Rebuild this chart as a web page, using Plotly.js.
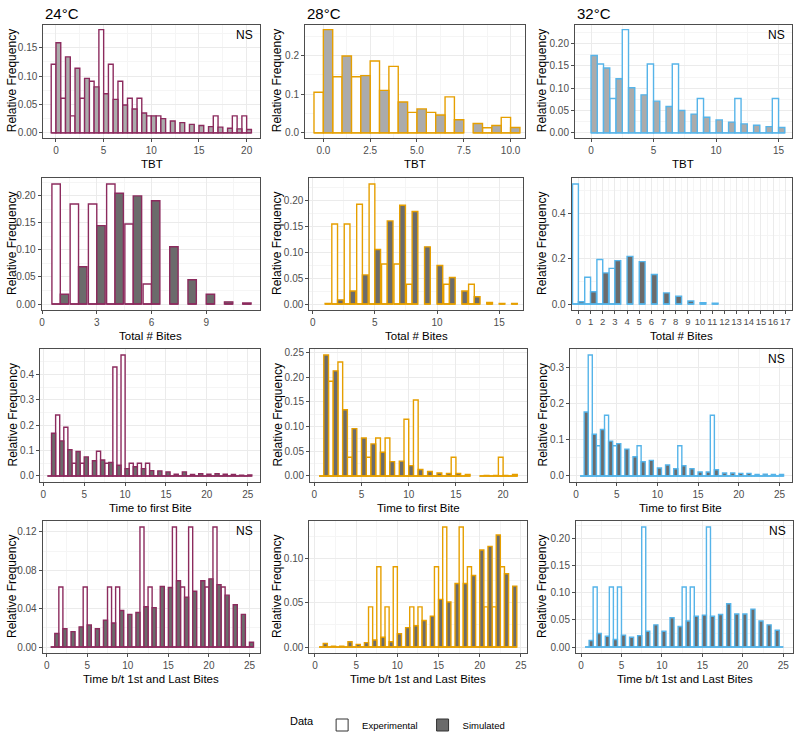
<!DOCTYPE html>
<html><head><meta charset="utf-8">
<script src="https://cdn.plot.ly/plotly-3.0.1.min.js"></script>
<style>html,body{margin:0;padding:0;background:#fff}#chart{width:798px;height:740px}</style>
</head><body><div id="chart"></div>
<script>
// ---------- DATA (relative frequencies; null = no bar) ----------
// Row 1: TBT
const tbt24Bins = [0,1,2,3,4,5,6,7,8,9,10,11,12,13,14,15,16,17,18,19,20];
const tbt24Exp  = [0.121,0.061,0.030,0.061,0.091,0.182,0.121,0.091,0.061,0.061,0.030,0.030,0,0,0,0,0,0.030,0,0.030,0.030];
const tbt24Sim  = [0.159,0.134,0.114,0.096,0.081,0.069,0.059,0.049,0.042,0.035,0.030,0.025,0.021,0.018,0.015,0.013,0.011,0.010,0.008,0.007,0.006];

const tbt28Bins = [0,1,2,3,4,5,6,7,8,9,10];
const tbt28Exp  = [0.105,0.145,0.145,0.186,0.172,0.053,0.053,0.093,null,0.013,0.040];
const tbt28Sim  = [0.267,0.199,0.148,0.110,0.080,0.062,0.046,0.034,0.024,0.019,0.014];

const tbt32Bins = [0,1,2,3,4,5,6,7,8,9,10,11,12,13,14,15];
const tbt32Exp  = [null,0.154,0.077,0.231,0,0.154,0,0.154,0,0.077,0,0,0.077,0,0,0.077];
const tbt32Sim  = [0.173,0.145,0.121,0.101,0.085,0.071,0.059,0.050,0.042,0.035,0.029,0.024,0.020,0.017,0.014,0.012];

// Row 2: Total # Bites
const bites24Bins = [1,2,3,4,5,6,7,8,9,10,11];
const bites24Exp  = [0.222,0.185,0.185,0.222,0.148,0.037,null,null,null,null,null];
const bites24Sim  = [0.018,0.069,0.145,0.205,0.200,0.191,0.106,0.045,0.018,0.004,0.002];

const bites28Bins = [1,2,3,4,5,6,7,8,9,10,11,12,13,14,15,16];
const bites28Exp  = [null,0.154,0.154,0.192,0.231,0.077,0.077,0.038,null,null,0.038,null,0.038,null,null,null];
const bites28Sim  = [0.001,0.008,0.025,0.056,0.105,0.160,0.190,0.178,0.110,0.074,0.051,0.025,0.014,0.003,0.001,0.001];

const bites32Bins = [0,1,2,3,4,5,6,7,8,9,10,11];
const bites32Exp  = [0.529,0.118,0.196,0.157,null,null,null,null,null,null,null,null];
const bites32Sim  = [0.010,0.054,0.137,0.191,0.210,0.187,0.130,0.049,0.034,0.013,0.006,0.003];
const bites32Ticks = [0,1,2,3,4,5,6,7,8,9,10,11,12,13,14,15,16,17];

// Row 3: Time to first Bite
const ttfb24Bins = [1,2,3,4,5,6,7,8,9,10,11,12,13,14,15,16,17,18,19,20,21,22,23,24,25];
const ttfb24Exp  = [0,0.240,0.192,0.050,0.050,0,0.097,0.050,0.429,0.476,0.050,0.050,0.050,0,0,0,0,0,0,0,0,0,0,0,0];
const ttfb24Sim  = [0.168,0.138,0.103,0.096,0.075,0.060,0.063,0.053,0.042,0.029,0.036,0.029,0.021,0.020,0.016,0.007,0.016,0.006,0.009,0.007,0.009,0.007,0.006,0.003,0.004];

const ttfb28Bins = [1,2,3,4,5,6,7,8,9,10,11,12,13,14,15,16,17,18,19,20,21];
const ttfb28Exp  = [0,0.192,0.231,0.038,0,0.038,0.077,0.077,0,0.115,0.154,0,0,0,0.038,0,null,0,0,0.038,0];
const ttfb28Sim  = [0.245,0.213,0.134,0.096,0.077,0.065,0.048,0.029,0.030,0.021,0.013,0.009,0.006,0.005,0.005,0.003,null,0.001,0.001,0.001,0.003];

const ttfb32Bins = [1,2,3,4,5,6,7,8,9,10,11,12,13,14,15,16,17,18,19,20,21,22,23,24,25];
const ttfb32Exp  = [0,0.333,0.083,0.167,0.083,0,0,0.083,0,0,0,0,0.083,0,0,0,0.167,0,0,0,0,0,0,0,0];
const ttfb32Sim  = [0.176,0.115,0.128,0.096,0.089,0.074,0.053,0.039,0.043,0.022,0.030,0.020,0.028,0.020,0.011,0.011,0.017,0.008,0.008,0.007,0.007,0.004,0.005,0.004,0.004];

// Row 4: Time b/t 1st and Last Bites
const btw24Bins = [1,2,3,4,5,6,7,8,9,10,11,12,13,14,15,16,17,18,19,20,21,22,23,24,25];
const btw24Exp  = [0,0.0625,0,0,0.0625,0,0,0.0625,0.0625,0,0,0.125,0.0625,0,0,0.125,0.0625,0.125,0,0.0625,0.125,0.0625,0,0,0];
const btw24Sim  = [0.014,0.019,0.016,0.021,0.023,0.019,0.028,0.025,0.038,0.034,0.036,0.042,0.041,0.063,0.062,0.069,0.052,0.058,0.069,0.071,0.065,0.054,0.044,0.034,0.005];

const btw28Bins = [1,2,3,4,5,6,7,8,9,10,11,12,13,14,15,16,17,18,19,20,21,22,23,24];
const btw28Exp  = [0,0,0,0,0,0,0.0455,0.0909,0.0455,0.0909,0,0.0455,0.0455,0,0.0909,0.136,0,0.136,0.0909,0,0.0455,0.0455,0.0909,0];
const btw28Sim  = [0.004,0.001,0.001,0.006,0.003,0.005,0.008,0.011,0.006,0.015,0.022,0.024,0.030,0.035,0.054,0.051,0.072,0.072,0.081,0.110,0.114,0.127,0.083,0.069];

const btw32Bins = [1,2,3,4,5,6,7,8,9,10,11,12,13,14,15,16,17,18,19,20,21,22,23,24,25];
const btw32Exp  = [0,0.111,0,0.111,0.111,0,0,0.222,0,0,0,0,0.111,0.111,0,0.222,0,0,0,0,0,0,0,0,0];
const btw32Sim  = [0.012,0.025,0.020,0.014,0.022,0.018,0.021,0.029,0.041,0.029,0.054,0.038,0.048,0.057,0.059,0.057,0.060,0.080,0.061,0.061,0.070,0.048,0.041,0.031,null];

const tempLabels = ['24°C','28°C','32°C'];
const xTitles = ['TBT','Total # Bites','Time to first Bite','Time b/t 1st and Last Bites'];
const yTitle = 'Relative Frequency';
const legendNames = ['Experimental','Simulated'];
const nsLabel = 'NS';

// ---------- STYLE / LAYOUT ----------
const W = 798, H = 740;
const C24 = '#8C2B5E', C28 = '#E69F00', C32 = '#56B4E9';
const FILL_LIGHT = '#ababab', FILL_DARK = '#6b6b6b';
const FONT = 'Liberation Sans, Arial, sans-serif';

// box = [left, top, right, bottom] in pixels
const panels = [
  {bins:tbt24Bins, exp:tbt24Exp, sim:tbt24Sim, color:C24, fill:FILL_LIGHT, w:0.5, box:[43.3,24.5,260,138], xr:[-1.33,21.4], xd:5, yd:0.05, yf:'.2f', row:0, col:0, ns:true},
  {bins:tbt28Bins, exp:tbt28Exp, sim:tbt28Sim, color:C28, fill:FILL_LIGHT, w:0.5, box:[305,24.5,525,138], xr:[-0.98,10.77], xd:2.5, xf:'.1f', yd:0.1, yf:'.1f', row:0, col:1, ns:false},
  {bins:tbt32Bins, exp:tbt32Exp, sim:tbt32Sim, color:C32, fill:FILL_LIGHT, w:0.5, box:[575,24.5,791.7,138], xr:[-1.28,16.05], xd:5, yd:0.05, yf:'.2f', row:0, col:2, ns:true},
  {bins:bites24Bins, exp:bites24Exp, sim:bites24Sim, color:C24, fill:FILL_DARK, w:0.46, box:[41.7,178,260,310], xr:[-0.02,11.95], xd:3, yd:0.05, yf:'.2f', row:1, col:0, ns:false},
  {bins:bites28Bins, exp:bites28Exp, sim:bites28Sim, color:C28, fill:FILL_DARK, w:0.46, box:[309.3,178,523.3,310], xr:[-0.27,16.94], xd:5, yd:0.05, yf:'.2f', row:1, col:1, ns:false},
  {bins:bites32Bins, exp:bites32Exp, sim:bites32Sim, color:C32, fill:FILL_DARK, w:0.48, box:[571.7,178,791.7,310], xr:[-0.55,17.53], xd:1, yd:0.2, yf:'.1f', row:1, col:2, ns:false, xticks:bites32Ticks},
  {bins:ttfb24Bins, exp:ttfb24Exp, sim:ttfb24Sim, color:C24, fill:FILL_DARK, w:0.5, box:[40,349,260,482], xr:[-0.41,26.5], xd:5, yd:0.1, yf:'.1f', row:2, col:0, ns:false},
  {bins:ttfb28Bins, exp:ttfb28Exp, sim:ttfb28Sim, color:C28, fill:FILL_DARK, w:0.5, box:[310,349,526.7,482], xr:[-0.46,22.5], xd:5, yd:0.05, yf:'.2f', row:2, col:1, ns:false},
  {bins:ttfb32Bins, exp:ttfb32Exp, sim:ttfb32Sim, color:C32, fill:FILL_DARK, w:0.5, box:[570,349,791.7,482], xr:[-0.74,26.5], xd:5, yd:0.1, yf:'.1f', row:2, col:2, ns:true},
  {bins:btw24Bins, exp:btw24Exp, sim:btw24Sim, color:C24, fill:FILL_DARK, w:0.5, box:[42.7,521,260,653], xr:[-0.49,26.3], xd:5, yd:0.04, yf:'.2f', row:3, col:0, ns:true},
  {bins:btw28Bins, exp:btw28Exp, sim:btw28Sim, color:C28, fill:FILL_DARK, w:0.5, box:[309.3,521,526.7,653], xr:[-0.69,25.7], xd:5, yd:0.05, yf:'.2f', row:3, col:1, ns:false},
  {bins:btw32Bins, exp:btw32Exp, sim:btw32Sim, color:C32, fill:FILL_DARK, w:0.5, box:[576,521,793,653], xr:[-0.62,26.2], xd:5, yd:0.05, yf:'.2f', row:3, col:2, ns:true}
];
const yTitleX = [12, 277, 542];

const traces = [];
const annotations = [];
const layout = {
  width: W, height: H,
  margin: {l:0, r:0, t:0, b:0},
  paper_bgcolor: '#ffffff', plot_bgcolor: '#ffffff',
  barmode: 'overlay',
  font: {family: FONT, color: '#000'},
  showlegend: true,
  legend: {orientation:'h', x:0.5, xanchor:'center', y:1-725/H, yanchor:'middle',
           title:{text:'Data', side:'left', font:{size:11, color:'#000'}},
           font:{size:9.5, color:'#000'}, itemwidth:30, traceorder:'normal'},
  annotations: annotations
};

panels.forEach((p, i) => {
  const n = i === 0 ? '' : String(i + 1);
  const xa = 'x' + n, ya = 'y' + n;
  const [l, t, r, b] = p.box;
  const allVals = p.exp.concat(p.sim).filter(v => v !== null);
  const ymax = Math.max.apply(null, allVals);
  const yr = [-0.05 * ymax, 1.05 * ymax];

  // baseline segments under every bar (zero-height bars show as a line, as in the source)
  const bx = [], by = [];
  p.bins.forEach((k, j) => {
    if (p.exp[j] !== null) { bx.push(k - p.w, k, null); by.push(0, 0, null); }
    if (p.sim[j] !== null) { bx.push(k, k + p.w, null); by.push(0, 0, null); }
  });
  traces.push({type:'scatter', mode:'lines', x:bx, y:by, xaxis:xa, yaxis:ya,
    line:{color:p.color, width:1.4}, hoverinfo:'skip', showlegend:false, cliponaxis:false});

  traces.push({type:'bar', x:p.bins, y:p.exp, xaxis:xa, yaxis:ya, offset:-p.w, width:p.w,
    marker:{color:'#ffffff', line:{color:p.color, width:1.4}}, showlegend:false, name:legendNames[0]});
  traces.push({type:'bar', x:p.bins, y:p.sim, xaxis:xa, yaxis:ya, offset:0, width:p.w,
    marker:{color:p.fill, line:{color:p.color, width:1.4}}, showlegend:false, name:legendNames[1]});

  const gridCommon = {showgrid:true, gridcolor:'#ebebeb', gridwidth:1, zeroline:false,
    showline:true, mirror:true, linecolor:'#4d4d4d', linewidth:1,
    ticks:'outside', ticklen:3, tickcolor:'#4d4d4d', tickwidth:1, tickangle:0,
    tickfont:{size:10, color:'#4d4d4d', family:FONT}, fixedrange:true};

  const xaxis = Object.assign({}, gridCommon, {
    domain:[l / W, r / W], anchor:ya, range:p.xr,
    minor:{showgrid:true, gridcolor:'#f5f5f5', gridwidth:1, dtick:p.xd / 2, tick0:0}
  });
  if (p.xticks) {
    xaxis.tickmode = 'array'; xaxis.tickvals = p.xticks; xaxis.ticktext = p.xticks.map(String);
    xaxis.tickfont = {size:9.5, color:'#4d4d4d', family:FONT};
  } else {
    xaxis.tickmode = 'linear'; xaxis.tick0 = 0; xaxis.dtick = p.xd;
    if (p.xf) xaxis.tickformat = p.xf;
  }
  const yaxis = Object.assign({}, gridCommon, {
    domain:[1 - b / H, 1 - t / H], anchor:xa, range:yr,
    tickmode:'linear', tick0:0, dtick:p.yd, tickformat:p.yf,
    minor:{showgrid:true, gridcolor:'#f5f5f5', gridwidth:1, dtick:p.yd / 2, tick0:0}
  });
  layout['xaxis' + n] = xaxis;
  layout['yaxis' + n] = yaxis;

  // axis titles
  annotations.push({text:xTitles[p.row], xref:'paper', yref:'paper', x:(l + r) / 2 / W, y:1 - (b + 18) / H,
    xanchor:'center', yanchor:'top', showarrow:false, font:{size:11.5, color:'#000', family:FONT}});
  annotations.push({text:yTitle, xref:'paper', yref:'paper', x:yTitleX[p.col] / W, y:1 - (t + b) / 2 / H,
    xanchor:'center', yanchor:'middle', textangle:-90, showarrow:false, font:{size:12, color:'#000', family:FONT}});
  if (p.row === 0) {
    annotations.push({text:tempLabels[p.col], xref:'paper', yref:'paper', x:l / W, y:1 - 13 / H,
      xanchor:'left', yanchor:'middle', showarrow:false, font:{size:15, color:'#000', family:FONT}});
  }
  if (p.ns) {
    annotations.push({text:nsLabel, xref:'paper', yref:'paper', x:(r - 5) / W, y:1 - (t + 10) / H,
      xanchor:'right', yanchor:'middle', showarrow:false, font:{size:12, color:'#000', family:FONT}});
  }
});

// legend keys
traces.push({type:'bar', x:[null], y:[null], name:legendNames[0], showlegend:true,
  marker:{color:'#ffffff', line:{color:'#333333', width:1}}, xaxis:'x', yaxis:'y'});
traces.push({type:'bar', x:[null], y:[null], name:legendNames[1], showlegend:true,
  marker:{color:'#6b6b6b', line:{color:'#333333', width:1}}, xaxis:'x', yaxis:'y'});

Plotly.newPlot('chart', traces, layout, {displayModeBar:false, staticPlot:true});
</script>
</body></html>
